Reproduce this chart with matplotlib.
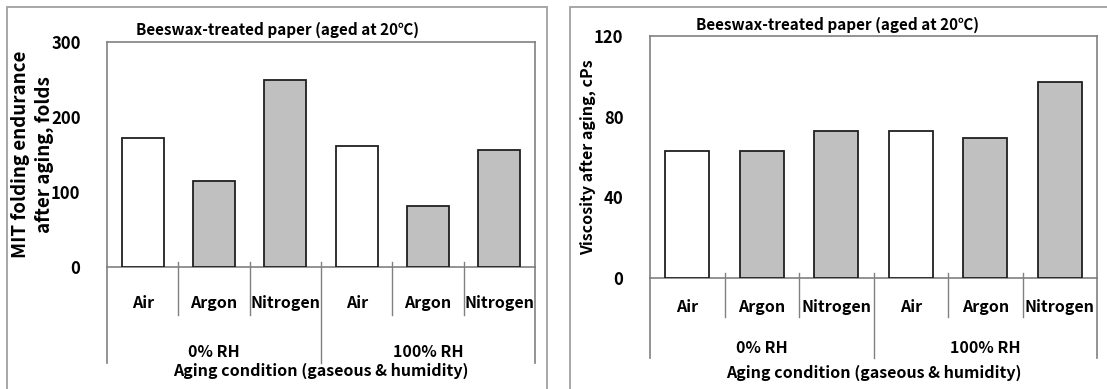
import matplotlib
matplotlib.use('Agg')
import matplotlib.pyplot as plt
from matplotlib.patches import Rectangle

plt.rcParams['font.family'] = ['Noto Sans CJK KR', 'DejaVu Sans']

# data
gases = ['Air', 'Argon', 'Nitrogen', 'Air', 'Argon', 'Nitrogen']
humidity = ['0% RH', '100% RH']
mit_folds = [172, 115, 249, 162, 81, 156]
viscosity = [63, 63, 73, 73, 69.5, 97]
bar_colors = ['white', '#c0c0c0', '#c0c0c0', 'white', '#c0c0c0', '#c0c0c0']

W, H = 1107, 389
fig = plt.figure(figsize=(W / 100, H / 100), dpi=100)
FW = 'bold'


def px_axes(x0, x1, ytop, yzero):
    return fig.add_axes([x0 / W, 1 - yzero / H, (x1 - x0) / W, (yzero - ytop) / H])


def frame(x0, y0, x1, y1):
    fig.patches.append(Rectangle((x0 / W, 1 - y1 / H), (x1 - x0) / W, (y1 - y0) / H,
                                 transform=fig.transFigure, fill=False,
                                 edgecolor='#a0a0a0', lw=1.3))


def panel(ax, values, ymax, yticks, title, ylabels, ylab_size, ylab_xs, title_x, title_y,
          short_bot, long_bot, tick_y, group_y, xlab_y, ytop, yzero):
    x = range(len(values))
    ax.bar(x, values, width=0.59, color=bar_colors, edgecolor='#202020', lw=1.3, zorder=3)
    ax.set_xlim(-0.5, len(values) - 0.5)
    ax.set_ylim(0, ymax)
    ax.set_yticks(yticks)
    ax.set_yticklabels([str(t) for t in yticks], fontsize=12, fontweight='bold')
    ax.tick_params(axis='y', length=0, pad=19)
    ax.set_xticks([])
    for s in ['left', 'right', 'top', 'bottom']:
        ax.spines[s].set_color('#808080')
        ax.spines[s].set_linewidth(1.2)

    h = yzero - ytop
    tr = ax.get_xaxis_transform()

    def fy(ypx):
        return (yzero - ypx) / h

    # separators under the axis
    for xs in [0.5, 1.5, 3.5, 4.5]:
        ax.plot([xs, xs], [fy(yzero - 5), fy(short_bot)], color='#808080', lw=1,
                transform=tr, clip_on=False)
    ax.plot([2.5, 2.5], [fy(yzero - 5), fy(long_bot)], color='#808080', lw=1,
            transform=tr, clip_on=False)
    for xs in [-0.5, len(values) - 0.5]:
        ax.plot([xs, xs], [0, fy(long_bot)], color='#808080', lw=1.2,
                transform=tr, clip_on=False)

    for i, g in enumerate(gases):
        ax.text(i, fy(tick_y), g, transform=tr, ha='center', va='center',
                fontsize=11.5, fontweight=FW)
    for j, rh in enumerate(humidity):
        ax.text(1 + 3 * j, fy(group_y), rh, transform=tr, ha='center', va='center',
                fontsize=11.5, fontweight=FW)
    ax.text(2.5, fy(xlab_y), 'Aging condition (gaseous & humidity)', transform=tr,
            ha='center', va='center', fontsize=11.5, fontweight=FW)
    fig.text(title_x / W, 1 - title_y / H, title, ha='center', va='center',
             fontsize=11, fontweight=FW)
    for lab, lx in zip(ylabels, ylab_xs):
        fig.text(lx / W, 1 - (ytop + yzero) / 2 / H, lab, rotation=90,
                 ha='center', va='center', fontsize=ylab_size, fontweight=FW)


frame(7, 7, 547, 400)
frame(570, 7, 1120, 400)

ax1 = px_axes(107, 535, 42, 267)
panel(ax1, mit_folds, 300, [0, 100, 200, 300],
      'Beeswax-treated paper (aged at 20℃)',
      ['MIT folding endurance', 'after aging, folds'], 13.5, [21, 44], 278, 30,
      315, 363, 303, 352, 371, 42, 267)

ax2 = px_axes(650, 1097, 36, 278)
panel(ax2, viscosity, 120, [0, 40, 80, 120],
      'Beeswax-treated paper (aged at 20℃)',
      ['Viscosity after aging, cPs'], 11.5, [588], 838, 25,
      317, 358, 307, 348, 373, 36, 278)

fig.savefig('out.png', dpi=100)
